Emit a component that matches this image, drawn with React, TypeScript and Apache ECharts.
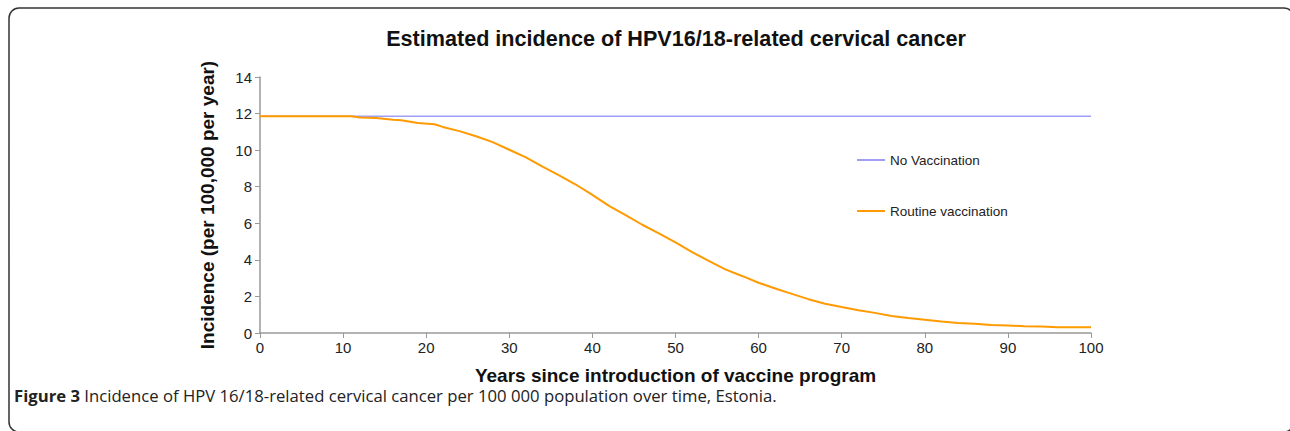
import React, { useEffect, useRef } from "react";
import * as echarts from "echarts";

const titleText = "Estimated incidence of HPV16/18-related cervical cancer";
const xAxisName = "Years since introduction of vaccine program";
const yAxisName = "Incidence (per 100,000 per year)";
const seriesNames = ["No Vaccination", "Routine vaccination"];

const noVaccYears = [0, 100];
const noVaccValues = [11.85, 11.85];

const routineYears = [
  0, 11, 12, 14, 16, 17, 19, 21, 22, 24, 26, 28, 30, 32, 34, 36, 38, 40, 42, 44,
  46, 48, 50, 52, 54, 56, 58, 60, 62, 64, 66, 68, 70, 72, 74, 76, 78, 80, 82, 84,
  86, 88, 90, 92, 94, 96, 98, 100,
];
const routineValues = [
  11.85, 11.85, 11.78, 11.76, 11.66, 11.64, 11.48, 11.42, 11.27, 11.04, 10.76,
  10.44, 10.02, 9.6, 9.1, 8.62, 8.12, 7.55, 6.95, 6.45, 5.92, 5.45, 4.95, 4.42,
  3.95, 3.48, 3.12, 2.75, 2.43, 2.14, 1.85, 1.6, 1.42, 1.25, 1.1, 0.93, 0.82,
  0.73, 0.63, 0.55, 0.5, 0.44, 0.41, 0.37, 0.35, 0.32, 0.31, 0.31,
];

const captionBold = "Figure 3";
const captionRest =
  " Incidence of HPV 16/18-related cervical cancer per 100 000 population over time, Estonia.";

export default function App() {
  const ref = useRef<HTMLDivElement>(null);
  useEffect(() => {
    if (!ref.current) return;
    const chart = echarts.init(ref.current, null, { renderer: "svg" });
    const font = "'Liberation Sans', Arial, Helvetica, sans-serif";
    chart.setOption({
      animation: false,
      backgroundColor: "#ffffff",
      textStyle: { fontFamily: font },
      title: {
        text: titleText,
        left: 671,
        textAlign: "center",
        top: 22,
        textStyle: { fontFamily: font, fontSize: 21.6, fontWeight: "bold", color: "#111" },
      },
      legend: {
        orient: "vertical",
        left: 857,
        top: 153,
        padding: 0,
        itemWidth: 28,
        itemHeight: 2,
        itemGap: 37,
        icon: "rect",
        data: seriesNames,
        textStyle: { fontFamily: font, fontSize: 13.5, color: "#222" },
      },
      grid: { left: 260, right: 199, top: 77, bottom: 98, containLabel: false },
      xAxis: {
        type: "value",
        min: 0,
        max: 100,
        interval: 10,
        name: xAxisName,
        nameLocation: "middle",
        nameGap: 34,
        nameTextStyle: {
          fontFamily: font,
          fontSize: 19,
          fontWeight: "bold",
          color: "#111",
          lineHeight: 17,
        },
        axisLine: { lineStyle: { color: "#999", width: 1.5 } },
        axisTick: { show: true, length: 5, lineStyle: { color: "#999" } },
        axisLabel: { fontFamily: font, fontSize: 15, color: "#222", margin: 7 },
        splitLine: { show: false },
      },
      yAxis: {
        type: "value",
        min: 0,
        max: 14,
        interval: 2,
        name: yAxisName,
        nameLocation: "middle",
        nameGap: 43,
        nameRotate: 90,
        nameTextStyle: { fontFamily: font, fontSize: 19, fontWeight: "bold", color: "#111" },
        axisLine: { show: true, lineStyle: { color: "#999", width: 1.5 } },
        axisTick: { show: true, length: 5, lineStyle: { color: "#999" } },
        axisLabel: { fontFamily: font, fontSize: 15, color: "#222", margin: 8 },
        splitLine: { show: false },
      },
      series: [
        {
          name: seriesNames[0],
          type: "line",
          data: noVaccYears.map((x, i) => [x, noVaccValues[i]]),
          showSymbol: false,
          symbol: "none",
          lineStyle: { color: "#9f9ff7", width: 1.6 },
          itemStyle: { color: "#9f9ff7" },
        },
        {
          name: seriesNames[1],
          type: "line",
          data: routineYears.map((x, i) => [x, routineValues[i]]),
          showSymbol: false,
          symbol: "none",
          lineStyle: { color: "#ff9a00", width: 2 },
          itemStyle: { color: "#ff9a00" },
        },
      ],
      graphic: [
        {
          type: "rect",
          shape: { x: 9, y: 8, width: 1285, height: 424, r: 10 },
          style: { fill: "none", stroke: "#333", lineWidth: 1.5 },
          silent: true,
        },
        {
          type: "text",
          x: 14,
          y: 395,
          style: {
            text: "{b|" + captionBold + "}{n|" + captionRest + "}",
            verticalAlign: "middle",
            rich: {
              b: {
                fontFamily: "'Open Sans', sans-serif",
                fontSize: 16.7,
                fontWeight: "bold",
                fill: "#222",
                lineHeight: 17,
              },
              n: {
                fontFamily: "'Open Sans', sans-serif",
                fontSize: 16.7,
                fill: "#222",
                lineHeight: 17,
              },
            },
          },
        },
      ],
    });
    return () => chart.dispose();
  }, []);
  return (
    <div
      ref={ref}
      style={{ position: "fixed", left: 0, top: 0, width: 1290, height: 431 }}
    />
  );
}
